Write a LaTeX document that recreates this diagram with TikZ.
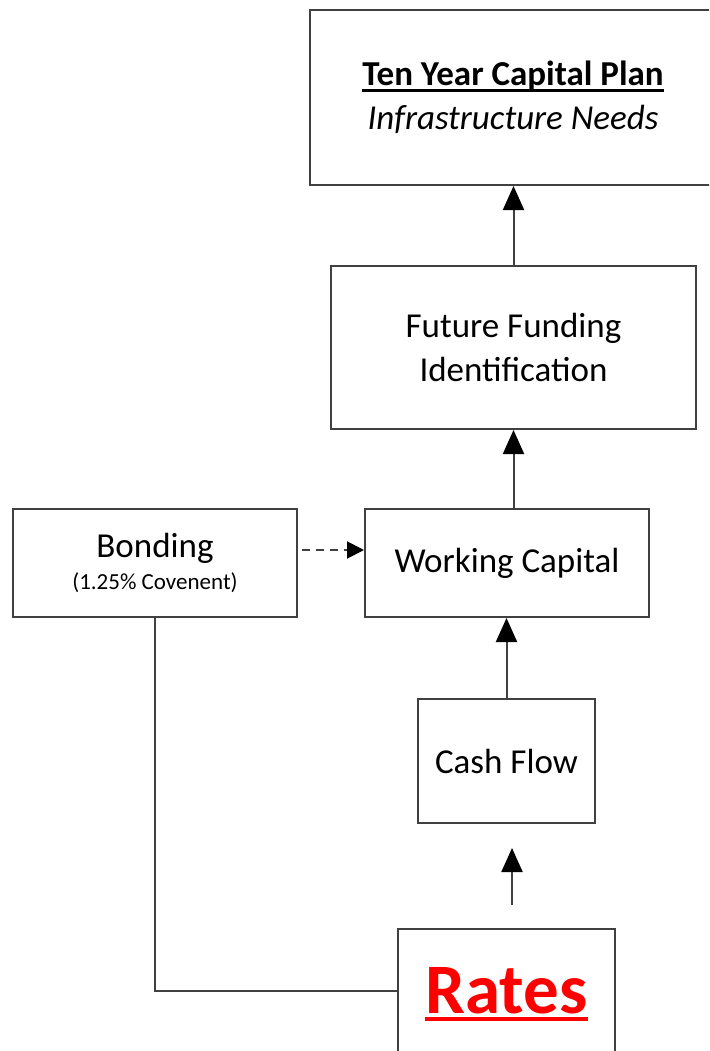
\documentclass[tikz,border=0pt]{standalone}
\usepackage{fontspec}
\setmainfont{Carlito}
\usetikzlibrary{arrows.meta}
\newcommand{\ulined}[3]{\setbox0\hbox{#3}\rlap{\rule[-#1]{\wd0}{#2}}\box0}

\begin{document}
\begin{tikzpicture}[x=1pt,y=-1pt,
      box/.style={draw=black!75, line width=2pt, rectangle, inner sep=0pt,
                  align=center, font=\fontsize{35}{44}\selectfont},
      arr/.style={draw=black!75, line width=2pt, -{Triangle[length=24pt,width=21pt,black]}},
      dasharr/.style={draw=black!75, line width=2pt, dash pattern=on 8pt off 6pt,
                  -{Triangle[length=17pt,width=17pt,black]}}]
      \useasboundingbox (0,0) rectangle (709,1051);
      \fill[white] (0,0) rectangle (709,1051);
      \clip (0,0) rectangle (709,1051);
      % boxes
      \node[box, minimum width=406pt, minimum height=175pt] (plan) at (513,97.5)
            {{\bfseries\ulined{6pt}{2.5pt}{Ten Year Capital Plan}}\\ \itshape Infrastructure Needs};
      \node[box, minimum width=365pt, minimum height=163pt] (funding) at (513.5,347.5)
            {Future Funding\\Identification};
      \node[box, minimum width=284pt, minimum height=108pt] (working) at (507,563)
            {\raisebox{-3pt}{Working Capital}};
      \node[box, minimum width=284pt, minimum height=108pt] (bonding) at (155,563)
            {Bonding\\[-12pt]{\fontsize{23}{32}\selectfont (1.25\% Covenent)}};
      \node[box, minimum height=124pt, minimum width=177pt] (cash) at (506.5,761) {Cash Flow};
      \node[box, anchor=north, minimum width=217pt, text height=84pt, text depth=80pt,
            text=red, font=\fontsize{71}{80}\selectfont\bfseries] (rates) at (506.5,928)
            {\ulined{8pt}{4pt}{Rates}};
      % free arrow above rates
      \coordinate (rtail) at (512,905);
      \coordinate (rhead) at (512,848);
      % connectors
      \draw[arr] (funding.north) -- (funding.north |- plan.south);
      \draw[arr] (funding.south |- working.north) -- (funding.south);
      \draw[arr] (cash.north) -- (cash.north |- working.south);
      \draw[arr] (rtail) -- (rhead);
      \draw[dasharr] ([xshift=4pt,yshift=13pt]bonding.east) -- ([yshift=13pt]working.west);
      \draw[draw=black!75, line width=2pt] (bonding.south) |- ([yshift=20pt]rates.west);
\end{tikzpicture}
\end{document}
